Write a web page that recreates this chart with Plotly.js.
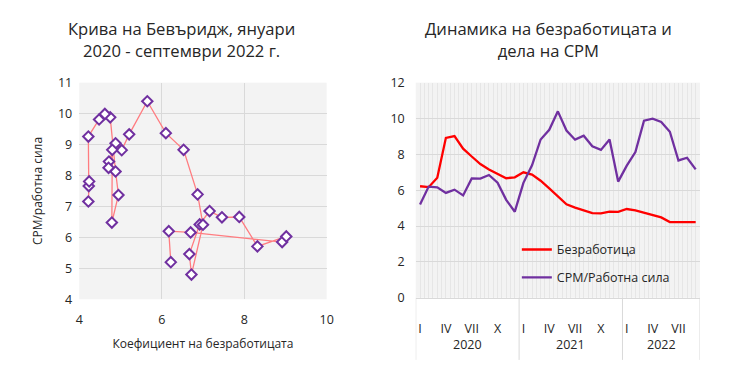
<!DOCTYPE html>
<html>
<head>
<meta charset="utf-8">
<script src="https://cdn.plot.ly/plotly-3.0.1.min.js"></script>
<style>html,body{margin:0;padding:0;background:#fff;}#chart{width:730px;height:368px;}</style>
</head>
<body>
<div id="chart"></div>
<script>
// Months Jan 2020 – Sep 2022
const monthIndex = [0,1,2,3,4,5,6,7,8,9,10,11,12,13,14,15,16,17,18,19,20,21,22,23,24,25,26,27,28,29,30,31,32];
// Unemployment rate (%)
const unemployment = [6.22,6.17,6.70,8.92,9.02,8.32,7.88,7.46,7.16,6.92,6.67,6.72,
                      7.00,6.87,6.53,6.10,5.65,5.21,5.03,4.88,4.72,4.71,4.80,4.79,
                      4.95,4.88,4.75,4.62,4.48,4.22,4.23,4.24,4.22];
// Vacancies / labour force (%)
const vacancyRatio = [5.20,6.20,6.16,5.85,6.03,5.71,6.66,6.65,6.85,6.42,5.46,4.80,
                      6.41,7.39,8.83,9.37,10.40,9.33,8.82,9.04,8.45,8.25,8.83,6.48,
                      7.37,8.13,9.88,9.99,9.81,9.26,7.66,7.81,7.16];
const monthTickVals = [0,3,6,9,12,15,18,21,24,27,30];
const monthTickText = ['I','IV','VII','X','I','IV','VII','X','I','IV','VII'];
const years = ['2020','2021','2022'];
const yearCenters = [5.5,17.5,28];
const yearBounds = [-0.5,11.5,23.5,32.5];

const FONT = '"Open Sans", "Noto Sans", sans-serif';
const TXT = '#262626';
const GRID = '#d9d9d9';
const BG = '#f3f3f3';

const traces = [
  {
    x: unemployment, y: vacancyRatio, xaxis: 'x', yaxis: 'y',
    type: 'scatter', mode: 'lines+markers', showlegend: false,
    line: {color: '#ff7c80', width: 1.3},
    marker: {symbol: 'diamond', size: 8, color: '#ffffff', line: {color: '#7030a0', width: 2}}
  },
  {
    x: monthIndex, y: unemployment, xaxis: 'x2', yaxis: 'y2',
    type: 'scatter', mode: 'lines', name: 'Безработица', legend: 'legend',
    line: {color: '#ff0000', width: 2.3}
  },
  {
    x: monthIndex, y: vacancyRatio, xaxis: 'x2', yaxis: 'y2',
    type: 'scatter', mode: 'lines', name: 'СРМ/Работна сила', legend: 'legend2',
    line: {color: '#7030a0', width: 2.3}
  }
];

const shapes = yearBounds.map(b => ({
  type: 'line', xref: 'x2', yref: 'paper', x0: b, x1: b, y0: 0.022, y1: 0.191,
  line: {color: GRID, width: 1}, layer: 'above'
}));

const annotations = [
  {text: 'Крива на Бевъридж, януари<br>2020 - септември 2022 г.', xref: 'paper', yref: 'paper',
   x: 0.248, y: 0.958, xanchor: 'center', yanchor: 'top', showarrow: false,
   font: {family: FONT, size: 16.6, color: TXT}},
  {text: 'Динамика на безработицата и<br>дела на СРМ', xref: 'paper', yref: 'paper',
   x: 0.752, y: 0.958, xanchor: 'center', yanchor: 'top', showarrow: false,
   font: {family: FONT, size: 16.6, color: TXT}}
];
years.forEach((yr, i) => annotations.push({
  text: yr, xref: 'x2', yref: 'paper', x: yearCenters[i], y: 0.065,
  xanchor: 'center', yanchor: 'middle', showarrow: false,
  font: {family: FONT, size: 12.5, color: TXT}
}));

const layout = {
  width: 730, height: 368,
  margin: {l: 0, r: 0, t: 0, b: 0},
  paper_bgcolor: '#ffffff', plot_bgcolor: BG,
  font: {family: FONT, size: 12.5, color: TXT},
  xaxis: {
    domain: [0.1086, 0.4475], range: [4, 10], dtick: 2, tick0: 4,
    showgrid: true, gridcolor: GRID, zeroline: false, showline: false,
    ticks: '', ticklabelstandoff: 11,
    title: {text: 'Коефициент на безработицата', font: {family: FONT, size: 12, color: TXT}, standoff: 12}
  },
  yaxis: {
    domain: [0.1867, 0.7753], range: [4, 11], dtick: 1, tick0: 4,
    showgrid: true, gridcolor: GRID, zeroline: false, showline: false,
    ticks: '', ticklabelstandoff: 6,
    title: {text: 'СРМ/работна сила', font: {family: FONT, size: 12, color: TXT}, standoff: 12}
  },
  xaxis2: {
    domain: [0.5695, 0.9589], range: [-0.5, 32.5], anchor: 'y2',
    tickmode: 'array', tickvals: monthTickVals, ticktext: monthTickText,
    showgrid: false, zeroline: false, showline: true, linecolor: GRID,
    ticks: '', ticklabelstandoff: 19,
    minor: {tick0: -0.5, dtick: 0.5, showgrid: true, gridcolor: '#e6e6e6', gridwidth: 1}
  },
  yaxis2: {
    domain: [0.191, 0.7753], range: [0, 12], dtick: 2, tick0: 0, anchor: 'x2',
    showgrid: true, gridcolor: GRID, zeroline: false, showline: false,
    ticks: '', ticklabelstandoff: 10
  },
  legend: {x: 0.708, y: 0.321, xanchor: 'left', yanchor: 'middle', bgcolor: 'rgba(0,0,0,0)',
           font: {family: FONT, size: 12.5, color: TXT}},
  legend2: {x: 0.708, y: 0.245, xanchor: 'left', yanchor: 'middle', bgcolor: 'rgba(0,0,0,0)',
           font: {family: FONT, size: 12.5, color: TXT}},
  shapes: shapes,
  annotations: annotations
};

Plotly.newPlot('chart', traces, layout, {displayModeBar: false, staticPlot: true});
</script>
</body>
</html>
